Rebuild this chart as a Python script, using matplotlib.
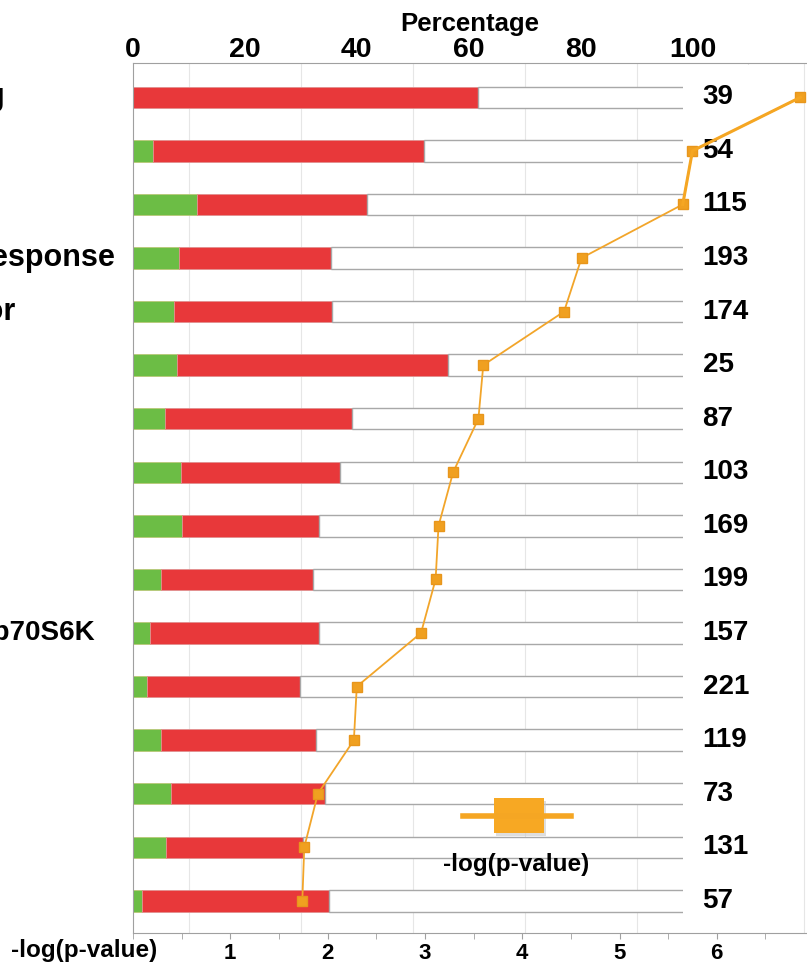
import matplotlib as mpl
import matplotlib.pyplot as plt
from matplotlib.patches import Rectangle
from matplotlib.lines import Line2D
import matplotlib.transforms as mtransforms
import numpy as np

mpl.rcParams["font.family"] = ["Liberation Sans", "DejaVu Sans"]
mpl.rcParams["font.weight"] = "bold"

# Data (top row first)
counts = ["39", "54", "115", "193", "174", "25", "87", "103",
          "169", "199", "157", "221", "119", "73", "131", "57"]
green_pct = [0.0, 3.6, 11.4, 8.2, 7.3, 7.9, 5.7, 8.6,
             8.8, 5.0, 3.0, 2.5, 5.0, 6.8, 5.9, 1.6]
red_end_pct = [61.6, 52.1, 41.8, 35.4, 35.5, 56.3, 39.1, 37.0,
               33.2, 32.2, 33.2, 29.8, 32.7, 34.3, 30.4, 35.0]
neglogp = [6.86, 5.75, 5.65, 4.61, 4.43, 3.60, 3.55, 3.29,
           3.14, 3.11, 2.96, 2.30, 2.27, 1.90, 1.76, 1.74]
# pathway names, mostly cut off by the left edge of the picture
row_labels = {0: "EIF2 Signaling", 3: "Unfolded protein response",
              4: "Glucocorticoid Receptor", 10: "Regulation of eIF4 and p70S6K"}
label_end_px = {0: 5, 3: 115, 4: 15, 10: 95}
label_size = {0: 22, 3: 22, 4: 22, 10: 20}

green = np.array(green_pct)
red = np.array(red_end_pct) - green
rest = 100 - np.array(red_end_pct)
rows = np.arange(len(counts))

W, H = 807, 973
fig = plt.figure(figsize=(W / 100, H / 100), dpi=100)
ax = fig.add_axes([133 / W, 40 / H, 674 / W, 870 / H])
ax2 = ax.twiny()

# Percentage axis (top)
ax.set_xlim(0, 674 / 5.595)
ax.set_ylim(15.6, -0.64)
ax.barh(rows, green, height=0.4, color="#6cbd45", edgecolor="#b8c878", lw=0.6, zorder=2)
ax.barh(rows, red, left=green, height=0.4, color="#e8383a", edgecolor="#e09090", lw=0.6, zorder=2)
ax.barh(rows, rest, left=green + red, height=0.4, color="white", edgecolor="#a8a8a8", lw=1.0, zorder=2)

ax.xaxis.set_ticks_position("top")
ax.xaxis.set_label_position("top")
ax.set_xticks([0, 20, 40, 60, 80, 100])
ax.set_xticks(np.arange(0, 121, 10), minor=True)
ax.tick_params(axis="x", which="both", length=0, pad=0, labelsize=20.5,
               labeltop=True, labelbottom=False)
ax.set_xlabel("Percentage", fontsize=18.5, fontweight="bold", labelpad=4)
ax.set_yticks([])
ax.grid(axis="x", which="minor", color="#e6e6e6", lw=0.8, zorder=0)
ax.set_axisbelow(True)
for s in ["top", "left"]:
    ax.spines[s].set_color("#a0a0a0")
ax.spines["right"].set_visible(False)
ax.spines["bottom"].set_visible(False)

# counts on the right, on white boxes
for r, c in zip(rows, counts):
    ax.text(101.8, r, c, fontsize=20, fontweight="bold", va="center", ha="left",
            bbox=dict(boxstyle="square,pad=0.7", fc="white", ec="none"), zorder=3)

# row labels cut off at the left edge
trans = mtransforms.blended_transform_factory(ax.transAxes, ax.transData)
for r, name in row_labels.items():
    ax.text((label_end_px[r] - 133) / 674, r, name, transform=trans, fontsize=label_size[r],
            fontweight="bold", ha="right", va="center", clip_on=False)

# -log(p-value) axis (bottom)
ax2.set_xlim(0, 674 / 97.3)
ax2.xaxis.set_ticks_position("bottom")
ax2.set_xticks([1, 2, 3, 4, 5, 6])
ax2.set_xticks(np.arange(0, 7, 0.5), minor=True)
ax2.tick_params(axis="x", which="both", length=4, color="#a0a0a0", pad=3, labelsize=16,
                labelbottom=True, labeltop=False)
for s in ["top", "left", "right"]:
    ax2.spines[s].set_visible(False)
ax2.spines["bottom"].set_visible(True)
ax2.spines["bottom"].set_color("#a0a0a0")
ax2.plot(neglogp, rows, color="#f2a52a", lw=1.3, marker="s", ms=7,
         mfc="#f0a020", mec="#e8961c", zorder=4)
ax2.plot(neglogp[:3], rows[:3], color="#f5a623", lw=2.2, zorder=4)

fig.text(84 / W, 1 - 950 / H, "-log(p-value)", fontsize=17.5, fontweight="bold",
         ha="center", va="center")

# legend
fig.add_artist(Line2D([463 / W, 571 / W], [1 - 816 / H] * 2, color="#f5a623", lw=4))
fig.add_artist(Rectangle((496 / W, 1 - 836 / H), 50 / W, 35 / H, fc="#c8c8c8", ec="none", alpha=0.6))
fig.add_artist(Rectangle((494 / W, 1 - 833 / H), 50 / W, 35 / H, fc="#f7a823", ec="none"))
fig.text(516 / W, 1 - 865 / H, "-log(p-value)", fontsize=17.5, fontweight="bold",
         ha="center", va="center")

fig.savefig("out.png", dpi=100)
